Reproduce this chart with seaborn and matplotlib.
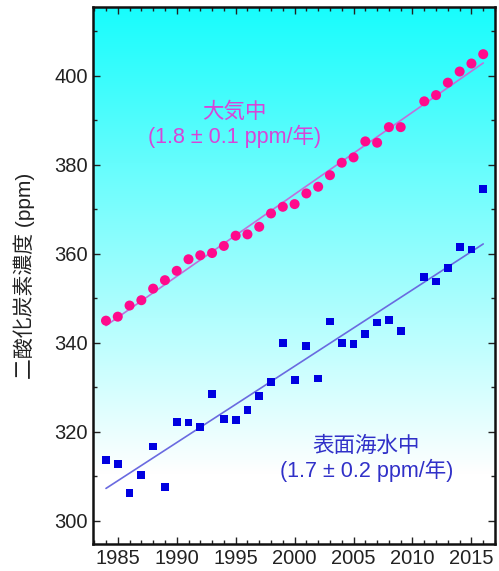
import numpy as np
import matplotlib
matplotlib.use('Agg')
import matplotlib.pyplot as plt
from matplotlib.colors import LinearSegmentedColormap
from matplotlib.ticker import MultipleLocator
import pandas as pd
import seaborn as sns

# yearly values (2010 has no point in either series)
years = [1984, 1985, 1986, 1987, 1988, 1989, 1990, 1991, 1992, 1993, 1994,
         1995, 1996, 1997, 1998, 1999, 2000, 2001, 2002, 2003, 2004, 2005,
         2006, 2007, 2008, 2009, 2011, 2012, 2013, 2014, 2015, 2016]
atmos = [345.0, 345.9, 348.4, 349.6, 352.2, 354.1, 356.2, 358.8, 359.7, 360.2,
         361.8, 364.1, 364.4, 366.1, 369.1, 370.6, 371.2, 373.6, 375.1, 377.7,
         380.5, 381.7, 385.3, 385.0, 388.5, 388.5, 394.3, 395.7, 398.5, 401.0,
         402.8, 404.9]
seawater = [313.7, 312.8, 306.2, 310.3, 316.7, 307.7, 322.3, 322.1, 321.1, 328.5,
            322.9, 322.6, 324.9, 328.1, 331.2, 339.9, 331.7, 339.3, 332.0, 344.8,
            339.9, 339.7, 342.0, 344.6, 345.2, 342.6, 354.9, 353.8, 356.9, 361.5,
            361.0, 374.5]

atmos_label = '大気中\n(1.8 ± 0.1 ppm/年)'
sea_label = '表面海水中\n(1.7 ± 0.2 ppm/年)'
ylabel = '二酸化炭素濃度 (ppm)'

df = pd.DataFrame({'year': years, 'atmos': atmos, 'sea': seawater})

sns.set_style('ticks')
plt.rcParams['font.family'] = ['Liberation Sans', 'Noto Sans CJK JP', 'DejaVu Sans']

fig = plt.figure(figsize=(4.99, 5.71), dpi=100)
ax = fig.add_axes([0.1864, 0.0473, 0.8056, 0.9404])

# cyan-to-white background
bg = LinearSegmentedColormap.from_list('bg', [(0, '#ffffff'), (0.13, '#ffffff'), (1, '#18fcfc')])
grad = np.linspace(0, 1, 256).reshape(-1, 1)
ax.imshow(grad, cmap=bg, aspect='auto', origin='lower', extent=[0, 1, 0, 1],
          transform=ax.transAxes, zorder=0)

sns.regplot(data=df, x='year', y='atmos', scatter=False, ci=None, ax=ax,
            line_kws=dict(color='#c070dc', lw=1.2, zorder=2))
sns.regplot(data=df, x='year', y='sea', scatter=False, ci=None, ax=ax,
            line_kws=dict(color='#6a6ae0', lw=1.2, zorder=2))
sns.scatterplot(data=df, x='year', y='atmos', ax=ax, color='#ff0a8c', marker='o',
                s=52, edgecolor='none', zorder=3)
sns.scatterplot(data=df, x='year', y='sea', ax=ax, color='#0000e0', marker='s',
                s=32, edgecolor='none', zorder=3)

ax.set_xlim(1982.9, 2017.0)
ax.set_ylim(294.8, 415.5)
ax.xaxis.set_major_locator(MultipleLocator(5))
ax.xaxis.set_minor_locator(MultipleLocator(1))
ax.yaxis.set_major_locator(MultipleLocator(20))
ax.yaxis.set_minor_locator(MultipleLocator(10))
ax.tick_params(which='both', direction='in', top=True, right=True, labelsize=14.5,
               colors='#222222', width=1)
ax.tick_params(which='major', length=5)
ax.tick_params(which='minor', length=3)
for s in ax.spines.values():
    s.set_linewidth(1.8)
    s.set_color('#111111')
ax.set_xlabel('')
ax.set_ylabel(ylabel, fontsize=15, color='#222222', labelpad=14)

ax.text(1994.9, 389.0, atmos_label, ha='center', va='center', fontsize=15.5,
        color='#d844d8', linespacing=1.1)
ax.text(2006.1, 314.0, sea_label, ha='center', va='center', fontsize=15.5,
        color='#3030c8', linespacing=1.1)

fig.savefig('out.png', dpi=100)
